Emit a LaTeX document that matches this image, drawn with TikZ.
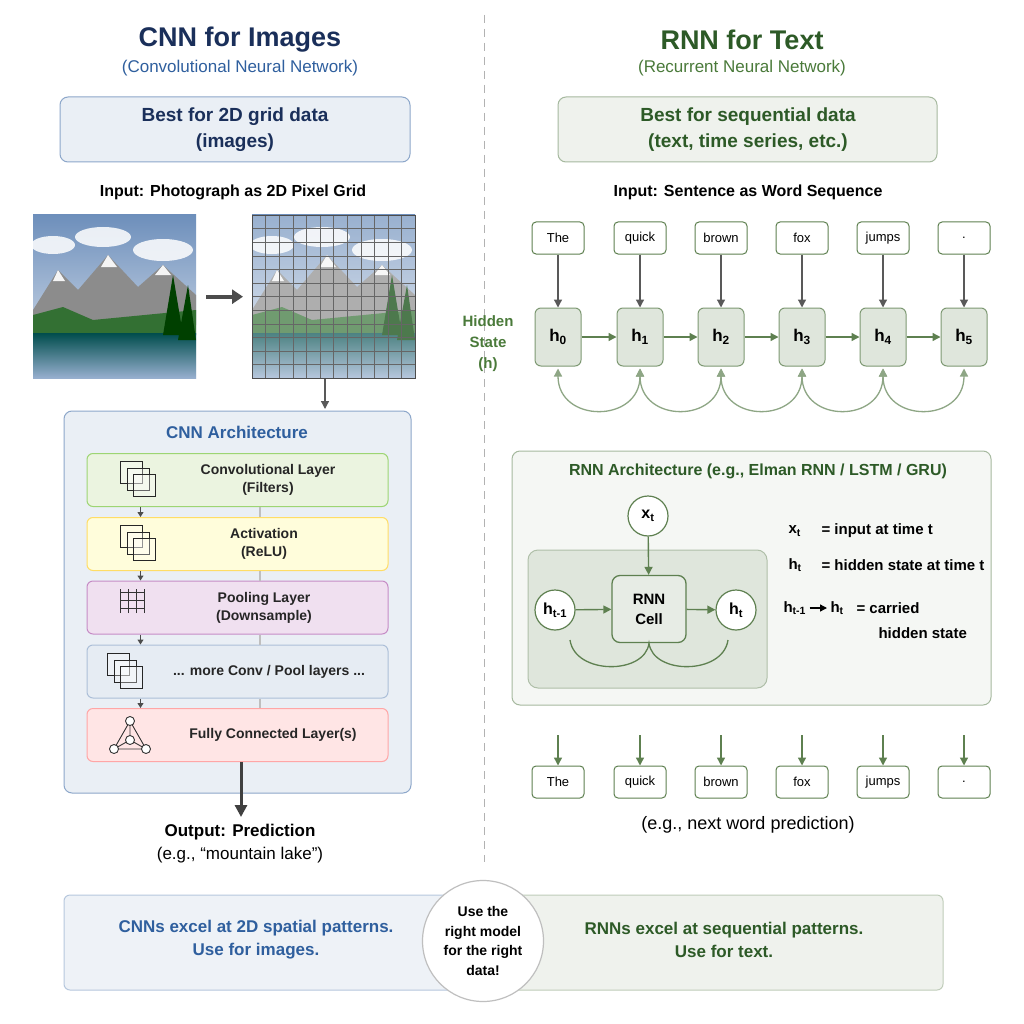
\documentclass[tikz,border=0pt]{standalone}
\usepackage{fontspec}
\setmainfont{Liberation Sans}
\usepackage{tikz}
\usetikzlibrary{arrows.meta,positioning,calc}
\definecolor{navy}{HTML}{1A2F5A}
\definecolor{cblue}{HTML}{2F5F9E}
\definecolor{rgreen}{HTML}{2D5A27}
\definecolor{lgreen}{HTML}{4A7A3A}
\definecolor{agreen}{HTML}{5E8050}
\tikzset{
  panel/.style={draw=#1!55, fill=#1!10, rounded corners=8pt, line width=1pt},
  layer/.style 2 args={draw=#1, fill=#2, rounded corners=6pt, line width=1pt, minimum width=301pt, minimum height=53pt},
  word/.style={draw=agreen, fill=white, rounded corners=4pt, line width=1pt, minimum width=52pt, minimum height=32pt, font=\fontsize{13}{15}\selectfont},
  hbox/.style={draw=agreen!80, fill=agreen!20, rounded corners=6pt, line width=1pt, minimum width=46pt, minimum height=58pt, font=\bfseries\fontsize{17}{19}\selectfont},
  downarr/.style={-{Triangle[length=8pt,width=8pt]}, line width=1.3pt, draw=black!65},
  garr/.style={-{Triangle[length=8pt,width=8pt]}, line width=1.4pt, draw=agreen},
  circ/.style={circle, draw=agreen, fill=white, line width=1.2pt, minimum size=40pt, inner sep=0pt, font=\bfseries\fontsize{16}{18}\selectfont},
  lbl/.style={align=center, font=\bfseries\fontsize{14}{18}\selectfont, text=black!85},
}
\begin{document}
\begin{tikzpicture}[x=1pt, y=-1pt]
\useasboundingbox (0,0) rectangle (1024,1024);
\fill[white] (0,0) rectangle (1024,1024);
% divider
\draw[black!30, line width=1pt, dash pattern=on 8pt off 6pt] (484,15) -- (484,862);

% ---------------- CNN side
\node[text=navy, font=\bfseries\fontsize{27}{30}\selectfont] (cnntitle) at (240,40) {CNN for Images};
\node[text=cblue, font=\fontsize{17}{19}\selectfont] (cnnsub) at (240,68) {(Convolutional Neural Network)};
\draw[panel=cblue] (60,97) rectangle (410,162);
\node[text=navy, align=center, font=\bfseries\fontsize{19}{26}\selectfont] (cnnbest) at (235,130) {Best for 2D grid data\\(images)};
\node[font=\bfseries\fontsize{16}{18}\selectfont] (cnnin) at (233,192) {Input: Photograph as 2D Pixel Grid};

% photographs
\foreach \xo/\nm in {33/photo, 252/grid}{
  \begin{scope}[shift={(\xo,215)}]
    \fill[top color=cblue!70, bottom color=cblue!15] (0,0) rectangle (163,163);
    \fill[white, opacity=.85] (20,30) ellipse (22pt and 9pt) (70,22) ellipse (28pt and 10pt) (130,35) ellipse (30pt and 11pt);
    \fill[black!45] (0,95) -- (25,55) -- (45,75) -- (75,40) -- (105,72) -- (130,50) -- (163,80) -- (163,110) -- (0,110) -- cycle;
    \fill[white!85!black!30] (25,55) -- (32,66) -- (20,66) -- cycle (75,40) -- (84,52) -- (68,52) -- cycle (130,50) -- (138,60) -- (122,60) -- cycle;
    \fill[green!30!black!80] (0,100) -- (30,92) -- (60,105) -- (163,95) -- (163,120) -- (0,120) -- cycle;
    \fill[top color=teal!60!black, bottom color=cblue!50] (0,118) rectangle (163,163);
    \fill[green!25!black] (140,60) -- (150,120) -- (130,120) -- cycle (155,70) -- (163,125) -- (145,125) -- cycle;
    \node[minimum size=163pt, inner sep=0pt, anchor=north west] (\nm) at (0,0) {};
  \end{scope}}
\fill[white, opacity=.3] (252,215) rectangle (415,378);
\foreach \k in {1,...,11}{
  \draw[black!60, line width=.6pt] ($(grid.north west)+(\k*13.6,0)$) -- ($(grid.south west)+(\k*13.6,0)$);
  \draw[black!60, line width=.6pt] ($(grid.north west)+(0,\k*13.6)$) -- ($(grid.north east)+(0,\k*13.6)$);}
\draw[black!70, line width=.8pt] (grid.north west) rectangle (grid.south east);
\draw[-{Triangle[length=11pt,width=14pt]}, line width=4pt, black!70] ($(photo.east)+(10,0)$) -- ($(grid.west)+(-9,0)$);

% architecture
\draw[panel=cblue] (64,411) rectangle (411,793);
\coordinate (gridout) at (325,379);
\draw[downarr] (gridout) -- (325,409);
\node[text=cblue, font=\bfseries\fontsize{17}{19}\selectfont] (archtitle) at (237,432) {CNN Architecture};
\node[layer={green!40!olive!55}{green!30!olive!12}] (conv) at (237.5,480) {};
\node[layer={orange!45!yellow!60}{yellow!14}] (act) at (237.5,544) {};
\node[layer={violet!45}{violet!12}] (pool) at (237.5,607.5) {};
\node[layer={cblue!40}{cblue!12}] (more) at (237.5,671.5) {};
\node[layer={red!35}{red!10}] (fc) at (237.5,735) {};
\foreach \a/\b in {conv/act, act/pool, pool/more, more/fc}{
  \draw[black!25, line width=2pt] ($(\a.south)+(22,0)$) -- ($(\b.north)+(22,0)$);
  \draw[-{Triangle[length=5pt,width=6pt]}, line width=1pt, black!70] ($(\a.south west)+(54,0)$) -- ($(\b.north west)+(54,0)$);}
\node[lbl] (convt) at (268,480) {Convolutional Layer\\(Filters)};
\node[lbl] (actt) at (264,544) {Activation\\(ReLU)};
\node[lbl] (poolt) at (264,607.5) {Pooling Layer\\(Downsample)};
\node[lbl] (moret) at (269,671.5) {... more Conv / Pool layers ...};
\node[lbl] (fct) at (273,735) {Fully Connected Layer(s)};
% icons
\foreach \cx/\cy in {120/461, 120/525, 107/653}{
  \foreach \d in {0,7,13}{
    \draw[black!85, line width=.9pt, fill=white, fill opacity=.3] (\cx+\d,\cy+\d) rectangle +(22,22);}}
\draw[black!80, line width=.9pt, step=8pt] (120,589) grid (144,613);
\begin{scope}[black!80, line width=.9pt]
  \draw (130,721) -- (114,749) -- (146,749) -- cycle (130,721) -- (130,740) (114,749) -- (130,740) -- (146,749);
  \foreach \p in {(130,721),(114,749),(146,749),(130,740)} \draw[fill=white] \p circle (4.5pt);
\end{scope}
\draw[-{Triangle[length=12pt,width=12pt]}, line width=3pt, black!75] (fc.south -| 241,0) -- (241,817);
\node[font=\bfseries\fontsize{17}{19}\selectfont] (outp) at (240,832) {Output: Prediction};
\node[font=\fontsize{17}{19}\selectfont] (outeg) at (240,855) {(e.g., “mountain lake")};

% ---------------- RNN side
\node[text=rgreen, font=\bfseries\fontsize{27}{30}\selectfont] (rnntitle) at (742,40) {RNN for Text};
\node[text=lgreen, font=\fontsize{17}{19}\selectfont] (rnnsub) at (742,68) {(Recurrent Neural Network)};
\draw[panel=agreen] (558,97) rectangle (937,162);
\node[text=rgreen, align=center, font=\bfseries\fontsize{19}{26}\selectfont] (rnnbest) at (748,130) {Best for sequential data\\(text, time series, etc.)};
\node[font=\bfseries\fontsize{16}{18}\selectfont] (rnnin) at (748,192) {Input: Sentence as Word Sequence};
\node[text=lgreen, align=center, font=\bfseries\fontsize{15}{21}\selectfont] (hidlab) at (488,344) {Hidden\\State\\(h)};
\foreach \i/\x/\w in {0/558/The, 1/640/quick, 2/721/brown, 3/802/fox, 4/883/jumps, 5/964/.}{
  \node[word] (in\i) at (\x,238) {\w};
  \node[hbox] (h\i) at (\x,337) {h\textsubscript{\i}};
  \node[word] (out\i) at (\x,782) {\w};
  \coordinate (o\i) at (\x,735);
  \draw[downarr] (in\i) -- (h\i);
  \draw[garr] (o\i) -- (out\i);}
\foreach \i/\j in {0/1, 1/2, 2/3, 3/4, 4/5}{
  \draw[garr] (h\i) -- (h\j);
  \draw[{Triangle[length=8pt,width=8pt]}-{Triangle[length=8pt,width=8pt]}, line width=1.3pt, agreen!70] ($(h\i.south)+(0,2)$) .. controls +(0,55) and +(0,55) .. ($(h\j.south)+(0,2)$);}

% RNN architecture
\draw[panel=agreen, fill=agreen!6] (512,451) rectangle (991,705);
\node[text=rgreen, font=\bfseries\fontsize{16}{18}\selectfont] (rarch) at (758,471) {RNN Architecture (e.g., Elman RNN / LSTM / GRU)};
\draw[draw=agreen!50, fill=agreen!20, rounded corners=10pt, line width=1pt] (528,550) rectangle (767,688);
\node[circ] (xt) at (648,516) {x\textsubscript{t}};
\node[draw=agreen, fill=agreen!15, line width=1.3pt, rounded corners=8pt, minimum width=74pt, minimum height=67pt, align=center, font=\bfseries\fontsize{15}{20}\selectfont] (cell) at (649,609) {RNN\\Cell};
\node[circ] (hprev) at (555,610) {h\textsubscript{t-1}};
\node[circ] (hcur) at (736,610) {h\textsubscript{t}};
\draw[garr] (xt) -- (cell);
\draw[garr] (hprev) -- (cell);
\draw[garr] (cell) -- (hcur);
\draw[agreen, line width=1.3pt] (570,640) .. controls (575,675) and (645,675) .. (cell.south) .. controls (653,675) and (723,675) .. (728,640);
\begin{scope}[font=\bfseries\fontsize{15}{17}\selectfont]
  \node[anchor=west] (lx) at (785,531) {x\textsubscript{t}};
  \node[anchor=west] (lxd) at (818,531) {= input at time t};
  \node[anchor=west] (lh) at (785,565) {h\textsubscript{t}};
  \node[anchor=west] (lhd) at (818,565) {= hidden state at time t};
  \node[anchor=west] (lp) at (780,608) {h\textsubscript{t-1}};
  \node[anchor=west] (lq) at (827,608) {h\textsubscript{t}};
  \node[anchor=west] (lpd) at (853,608) {= carried};
  \node[anchor=west] (lpd2) at (875,633) {hidden state};
  \draw[-{Triangle[length=7pt,width=7pt]}, line width=1.3pt] (lp) -- (lq);
\end{scope}
\node[font=\fontsize{18}{20}\selectfont] (nextw) at (748,825) {(e.g., next word prediction)};

% ---------------- bottom banner
\draw[draw=cblue!35, fill=cblue!8, line width=1pt, rounded corners=6pt] (64,895) -- (484,895) -- (484,990) -- (64,990) -- cycle;
\draw[draw=agreen!40, fill=agreen!10, line width=1pt, rounded corners=6pt] (484,895) -- (943,895) -- (943,990) -- (484,990) -- cycle;
\node[text=cblue, align=center, font=\bfseries\fontsize{17}{23}\selectfont] (cnnsum) at (256,940) {CNNs excel at 2D spatial patterns.\\Use for images.};
\node[text=rgreen, align=center, font=\bfseries\fontsize{17}{23}\selectfont] (rnnsum) at (724,940) {RNNs excel at sequential patterns.\\Use for text.};
\node[circle, draw=black!25, fill=white, line width=1.2pt, minimum size=121pt, align=center, font=\bfseries\fontsize{14}{19.5}\selectfont] (rule) at (483,941) {Use the\\right model\\for the right\\data!};
\end{tikzpicture}
\end{document}
